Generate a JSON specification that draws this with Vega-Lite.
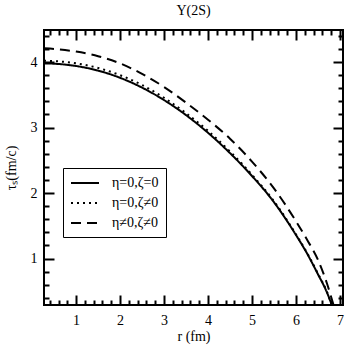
{
  "$schema": "https://vega.github.io/schema/vega-lite/v6.json",
  "width": 299,
  "height": 275,
  "autosize": {"type": "none"},
  "padding": {"left": 44, "top": 30, "right": 3, "bottom": 41},
  "background": "white",
  "title": {"text": "Υ(2S)", "font": "Liberation Serif", "fontSize": 14, "fontWeight": "normal", "color": "black", "anchor": "middle", "offset": 11},
  "config": {
    "view": {"stroke": "black", "strokeWidth": 2},
    "axis": {"domain": false, "grid": false, "tickColor": "black", "tickWidth": 2, "labelFont": "Liberation Serif", "labelFontSize": 14, "labelColor": "black", "titleFont": "Liberation Serif", "titleFontSize": 14, "titleFontWeight": "normal", "titleColor": "black"}
  },
  "data": {"values": [
    {"r": 0.27, "tau": 3.98, "series": "η=0,ζ=0"},
    {"r": 0.5, "tau": 3.975, "series": "η=0,ζ=0"},
    {"r": 1.0, "tau": 3.94, "series": "η=0,ζ=0"},
    {"r": 1.5, "tau": 3.87, "series": "η=0,ζ=0"},
    {"r": 2.0, "tau": 3.76, "series": "η=0,ζ=0"},
    {"r": 2.5, "tau": 3.61, "series": "η=0,ζ=0"},
    {"r": 3.0, "tau": 3.42, "series": "η=0,ζ=0"},
    {"r": 3.5, "tau": 3.19, "series": "η=0,ζ=0"},
    {"r": 4.0, "tau": 2.92, "series": "η=0,ζ=0"},
    {"r": 4.5, "tau": 2.61, "series": "η=0,ζ=0"},
    {"r": 5.0, "tau": 2.26, "series": "η=0,ζ=0"},
    {"r": 5.5, "tau": 1.86, "series": "η=0,ζ=0"},
    {"r": 6.0, "tau": 1.36, "series": "η=0,ζ=0"},
    {"r": 6.25, "tau": 1.08, "series": "η=0,ζ=0"},
    {"r": 6.5, "tau": 0.76, "series": "η=0,ζ=0"},
    {"r": 6.7, "tau": 0.49, "series": "η=0,ζ=0"},
    {"r": 6.81, "tau": 0.30, "series": "η=0,ζ=0"},
    {"r": 0.27, "tau": 4.02, "series": "η=0,ζ≠0"},
    {"r": 0.5, "tau": 4.015, "series": "η=0,ζ≠0"},
    {"r": 1.0, "tau": 3.98, "series": "η=0,ζ≠0"},
    {"r": 1.5, "tau": 3.91, "series": "η=0,ζ≠0"},
    {"r": 2.0, "tau": 3.80, "series": "η=0,ζ≠0"},
    {"r": 2.5, "tau": 3.65, "series": "η=0,ζ≠0"},
    {"r": 3.0, "tau": 3.455, "series": "η=0,ζ≠0"},
    {"r": 3.5, "tau": 3.22, "series": "η=0,ζ≠0"},
    {"r": 4.0, "tau": 2.95, "series": "η=0,ζ≠0"},
    {"r": 4.5, "tau": 2.635, "series": "η=0,ζ≠0"},
    {"r": 5.0, "tau": 2.28, "series": "η=0,ζ≠0"},
    {"r": 5.5, "tau": 1.875, "series": "η=0,ζ≠0"},
    {"r": 6.0, "tau": 1.37, "series": "η=0,ζ≠0"},
    {"r": 6.25, "tau": 1.09, "series": "η=0,ζ≠0"},
    {"r": 6.5, "tau": 0.77, "series": "η=0,ζ≠0"},
    {"r": 6.7, "tau": 0.50, "series": "η=0,ζ≠0"},
    {"r": 6.81, "tau": 0.30, "series": "η=0,ζ≠0"},
    {"r": 0.27, "tau": 4.21, "series": "η≠0,ζ≠0"},
    {"r": 0.5, "tau": 4.20, "series": "η≠0,ζ≠0"},
    {"r": 1.0, "tau": 4.16, "series": "η≠0,ζ≠0"},
    {"r": 1.5, "tau": 4.09, "series": "η≠0,ζ≠0"},
    {"r": 2.0, "tau": 3.98, "series": "η≠0,ζ≠0"},
    {"r": 2.5, "tau": 3.82, "series": "η≠0,ζ≠0"},
    {"r": 3.0, "tau": 3.62, "series": "η≠0,ζ≠0"},
    {"r": 3.5, "tau": 3.38, "series": "η≠0,ζ≠0"},
    {"r": 4.0, "tau": 3.12, "series": "η≠0,ζ≠0"},
    {"r": 4.5, "tau": 2.83, "series": "η≠0,ζ≠0"},
    {"r": 5.0, "tau": 2.48, "series": "η≠0,ζ≠0"},
    {"r": 5.5, "tau": 2.07, "series": "η≠0,ζ≠0"},
    {"r": 6.0, "tau": 1.57, "series": "η≠0,ζ≠0"},
    {"r": 6.25, "tau": 1.29, "series": "η≠0,ζ≠0"},
    {"r": 6.5, "tau": 0.98, "series": "η≠0,ζ≠0"},
    {"r": 6.7, "tau": 0.63, "series": "η≠0,ζ≠0"},
    {"r": 6.85, "tau": 0.30, "series": "η≠0,ζ≠0"}
  ]},
  "resolve": {"axis": {"x": "independent", "y": "independent"}},
  "layer": [
    {
      "mark": {"type": "line", "interpolate": "monotone", "strokeWidth": 2, "color": "black", "clip": true},
      "encoding": {
        "x": {"field": "r", "type": "quantitative", "scale": {"domain": [0.27, 7.07], "nice": false, "zero": false},
          "axis": {"orient": "bottom", "values": [1, 2, 3, 4, 5, 6, 7], "tickSize": -10, "labelPadding": 18, "title": "r (fm)", "titlePadding": 2}},
        "y": {"field": "tau", "type": "quantitative", "scale": {"domain": [0.29, 4.49], "nice": false, "zero": false},
          "axis": {"orient": "left", "values": [1, 2, 3, 4], "tickSize": -10, "labelPadding": 17, "title": "τₛ(fm/c)", "titlePadding": 12}},
        "strokeDash": {"field": "series", "type": "nominal",
          "scale": {"domain": ["η=0,ζ=0", "η=0,ζ≠0", "η≠0,ζ≠0"], "range": [[1, 0], [2, 4], [10, 6]]},
          "legend": {"orient": "none", "legendX": 19, "legendY": 138, "title": null, "strokeColor": "black", "fillColor": "white", "padding": 7, "symbolType": "M-1,0H3", "symbolSize": 196, "symbolStrokeWidth": 2, "symbolStrokeColor": "black", "labelFont": "Liberation Serif", "labelFontSize": 14, "labelColor": "black", "labelOffset": 26, "rowPadding": 5}}
      }
    },
    {
      "mark": {"type": "point", "opacity": 0},
      "encoding": {
        "x": {"field": "r", "type": "quantitative", "axis": {"orient": "top", "values": [1, 2, 3, 4, 5, 6, 7], "tickSize": -10, "labels": false, "title": null}},
        "y": {"field": "tau", "type": "quantitative", "axis": {"orient": "right", "values": [1, 2, 3, 4], "tickSize": -10, "labels": false, "title": null}}
      }
    },
    {
      "mark": {"type": "point", "opacity": 0},
      "encoding": {
        "x": {"field": "r", "type": "quantitative", "axis": {"orient": "bottom", "values": [0.4, 0.6, 0.8, 1.2, 1.4, 1.6, 1.8, 2.2, 2.4, 2.6, 2.8, 3.2, 3.4, 3.6, 3.8, 4.2, 4.4, 4.6, 4.8, 5.2, 5.4, 5.6, 5.8, 6.2, 6.4, 6.6, 6.8], "tickSize": -5, "labels": false, "title": null}},
        "y": {"field": "tau", "type": "quantitative", "axis": {"orient": "left", "values": [0.4, 0.6, 0.8, 1.2, 1.4, 1.6, 1.8, 2.2, 2.4, 2.6, 2.8, 3.2, 3.4, 3.6, 3.8, 4.2, 4.4], "tickSize": -5, "labels": false, "title": null}}
      }
    },
    {
      "mark": {"type": "point", "opacity": 0},
      "encoding": {
        "x": {"field": "r", "type": "quantitative", "axis": {"orient": "top", "values": [0.4, 0.6, 0.8, 1.2, 1.4, 1.6, 1.8, 2.2, 2.4, 2.6, 2.8, 3.2, 3.4, 3.6, 3.8, 4.2, 4.4, 4.6, 4.8, 5.2, 5.4, 5.6, 5.8, 6.2, 6.4, 6.6, 6.8], "tickSize": -5, "labels": false, "title": null}},
        "y": {"field": "tau", "type": "quantitative", "axis": {"orient": "right", "values": [0.4, 0.6, 0.8, 1.2, 1.4, 1.6, 1.8, 2.2, 2.4, 2.6, 2.8, 3.2, 3.4, 3.6, 3.8, 4.2, 4.4], "tickSize": -5, "labels": false, "title": null}}
      }
    }
  ]
}
